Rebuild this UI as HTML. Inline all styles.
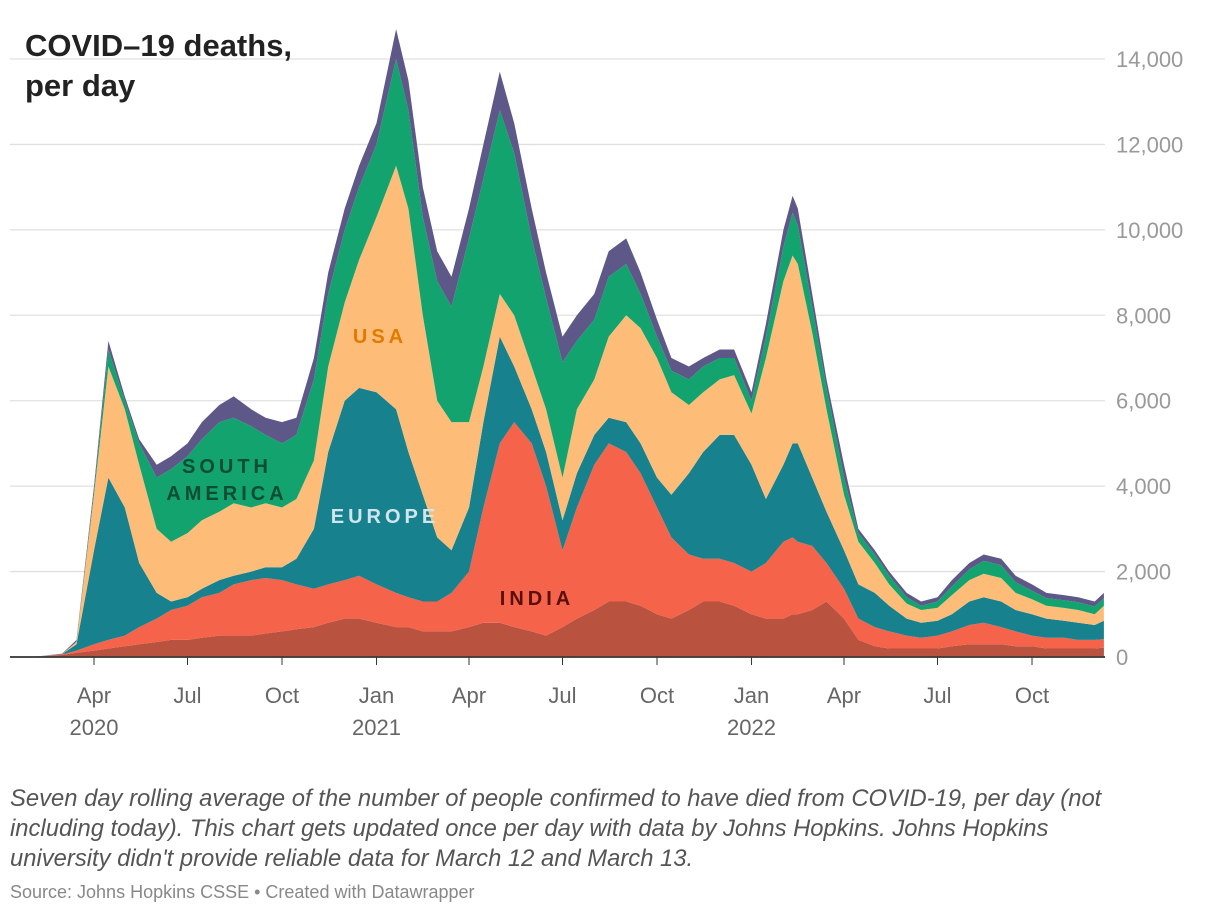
<!DOCTYPE html>
<html><head><meta charset="utf-8">
<style>
body{margin:0;width:1220px;height:918px;background:#fff;font-family:"Liberation Sans",sans-serif;overflow:hidden;position:relative}
#title{position:absolute;left:25px;top:26px;font-size:31px;font-weight:bold;color:#222;line-height:40px}
#caption{position:absolute;left:10px;top:784px;width:1140px;font-size:23.8px;font-style:italic;color:#555;line-height:30px}
#source{position:absolute;left:10px;top:882px;font-size:18px;color:#888}
svg{position:absolute;left:0;top:0}
</style></head><body>
<svg id="chart" width="1220" height="918"></svg>
<div id="title">COVID–19 deaths,<br>per day</div>
<div id="caption">Seven day rolling average of the number of people confirmed to have died from COVID-19, per day (not including today). This chart gets updated once per day with data by Johns Hopkins. Johns Hopkins university didn't provide reliable data for March 12 and March 13.</div>
<div id="source">Source: Johns Hopkins CSSE • Created with Datawrapper</div>
<script>
const dates=["2020-02-01","2020-03-01","2020-03-15","2020-04-01","2020-04-15","2020-05-01","2020-05-15","2020-06-01","2020-06-15","2020-07-01","2020-07-15","2020-08-01","2020-08-15","2020-09-01","2020-09-15","2020-10-01","2020-10-15","2020-11-01","2020-11-15","2020-12-01","2020-12-15","2021-01-01","2021-01-20","2021-02-01","2021-02-15","2021-03-01","2021-03-15","2021-04-01","2021-04-15","2021-05-01","2021-05-15","2021-06-01","2021-06-15","2021-07-01","2021-07-15","2021-08-01","2021-08-15","2021-09-01","2021-09-15","2021-10-01","2021-10-15","2021-11-01","2021-11-15","2021-12-01","2021-12-15","2022-01-01","2022-01-15","2022-02-01","2022-02-10","2022-02-15","2022-03-01","2022-03-15","2022-04-01","2022-04-15","2022-05-01","2022-05-15","2022-06-01","2022-06-15","2022-07-01","2022-07-15","2022-08-01","2022-08-15","2022-09-01","2022-09-15","2022-10-01","2022-10-15","2022-11-01","2022-11-15","2022-12-01","2022-12-10"];
// cumulative stack tops per region
const topAsia=[0,50,100,150,200,250,300,350,400,400,450,500,500,500,550,600,650,700,800,900,900,800,700,700,600,600,600,700,800,800,700,600,500,700,900,1100,1300,1300,1200,1000,900,1100,1300,1300,1200,1000,900,900,1000,1000,1100,1300,900,400,250,200,200,200,200,250,300,300,300,250,250,200,200,200,200,220];
const topIndia=[0,60,150,300,400,500,700,900,1100,1200,1400,1500,1700,1800,1850,1800,1700,1600,1700,1800,1900,1700,1500,1400,1300,1300,1500,2000,3500,5000,5500,5000,4000,2500,3500,4500,5000,4800,4300,3500,2800,2400,2300,2300,2200,2000,2200,2700,2800,2700,2600,2200,1600,900,700,600,500,450,500,600,750,800,700,600,500,450,450,400,400,420];
const topEurope=[0,70,300,2500,4200,3500,2200,1500,1300,1400,1600,1800,1900,2000,2100,2100,2300,3000,4800,6000,6300,6200,5800,4800,3800,2800,2500,3500,5500,7500,6800,5800,4800,3200,4300,5200,5600,5500,5000,4200,3800,4300,4800,5200,5200,4500,3700,4500,5000,5000,4200,3400,2500,1700,1500,1200,900,800,850,1000,1300,1400,1300,1100,1000,900,850,800,750,850];
const topUSA=[0,70,350,3800,6800,5800,4500,3000,2700,2900,3200,3400,3600,3500,3600,3500,3700,4600,6800,8300,9300,10300,11500,10500,8000,6000,5500,5500,6800,8500,8000,6800,5800,4200,5800,6500,7500,8000,7700,7000,6200,5900,6200,6500,6600,5700,7000,8800,9400,9200,7600,5800,3800,2700,2200,1700,1250,1100,1150,1450,1800,1950,1850,1500,1350,1200,1150,1100,1000,1200];
const topSouthAm=[0,70,360,3900,7200,6000,5000,4200,4400,4700,5100,5500,5600,5400,5200,5000,5200,6500,8500,10000,11000,12000,14000,12800,10300,8800,8200,9800,11200,12800,11800,9800,8400,6900,7400,7900,8900,9200,8500,7500,6700,6500,6800,7000,7000,6000,7500,9600,10400,10100,8200,6300,4200,2900,2400,1900,1400,1200,1300,1650,2050,2250,2150,1750,1550,1380,1330,1280,1180,1380];
const topTotal=[0,80,400,4000,7400,6100,5100,4500,4700,5000,5500,5900,6100,5800,5600,5500,5600,7000,9000,10500,11500,12500,14700,13500,11000,9500,8900,10500,12000,13700,12500,10500,9000,7500,8000,8500,9500,9800,9000,7900,7000,6800,7000,7200,7200,6200,7800,10000,10800,10500,8500,6500,4500,3000,2500,2000,1500,1300,1400,1800,2200,2400,2300,1900,1700,1500,1450,1400,1300,1500];
const yTicks=[0,2000,4000,6000,8000,10000,12000,14000];
const xTickDates=["2020-04-01","2020-07-01","2020-10-01","2021-01-01","2021-04-01","2021-07-01","2021-10-01","2022-01-01","2022-04-01","2022-07-01","2022-10-01"];
const xTickLabels=["Apr","Jul","Oct","Jan","Apr","Jul","Oct","Jan","Apr","Jul","Oct"];
const xYearLabels=["2020","","","2021","","","","2022","","",""];

const NS="http://www.w3.org/2000/svg";
const svg=document.getElementById('chart');
const base=Date.UTC(2020,3,1);
function xs(d){const p=d.split('-');return 94+((Date.UTC(+p[0],+p[1]-1,+p[2])-base)/864e5)*1.0274;}
function ys(v){return 657-v*(598/14000);}
function mk(t,a){const e=document.createElementNS(NS,t);for(const k in a)e.setAttribute(k,a[k]);svg.appendChild(e);return e;}
yTicks.forEach((v,i)=>{
  const l=mk('line',{x1:10,x2:1105,y1:ys(v),y2:ys(v),stroke:v===0?'#333':'#e0e0e0','stroke-width':v===0?1.5:1.3});
  
  
  const t=mk('text',{x:1116,y:ys(v)+8,'font-size':22,fill:'#999'});
  t.textContent=v.toLocaleString('en-US');
  
  
});
const layers=[[null,topAsia,'#b9533f','asia-area'],[topAsia,topIndia,'#f4634a','india-area'],[topIndia,topEurope,'#17818e','europe-area'],[topEurope,topUSA,'#fdbd78','usa-area'],[topUSA,topSouthAm,'#12a36f','south-america-area'],[topSouthAm,topTotal,'#5e5889','other-area']];
layers.forEach(([lo,hi,col,name])=>{
  let d='';
  dates.forEach((dt,i)=>{d+=(i?'L':'M')+xs(dt).toFixed(1)+','+ys(hi[i]).toFixed(1);});
  for(let i=dates.length-1;i>=0;i--){d+='L'+xs(dates[i]).toFixed(1)+','+ys(lo?lo[i]:0).toFixed(1);}
  const p=mk('path',{d:d+'Z',fill:col});
  
  
});
mk('line',{x1:10,x2:1105,y1:657,y2:657,stroke:'#333','stroke-width':1.5});
xTickDates.forEach((dt,i)=>{
  const x=xs(dt);
  const tk=mk('line',{x1:x,x2:x,y1:657,y2:665,stroke:'#333','stroke-width':1});
  
  
  const t=mk('text',{x:x,y:703,'font-size':22,fill:'#666','text-anchor':'middle'});
  t.textContent=xTickLabels[i];
  
  
  if(xYearLabels[i]){
    const y=mk('text',{x:x,y:735,'font-size':22,fill:'#666','text-anchor':'middle'});
    y.textContent=xYearLabels[i];
    
    
  }
});
[["USA",380,343,'#e07b00'],["SOUTH",227,473,'#0d4d33'],["AMERICA",227,500,'#0d4d33'],["EUROPE",385,523,'#cfe6ee'],["INDIA",537,605,'#5a0f0a']].forEach(([s,x,y,c])=>{
  const t=mk('text',{x:x,y:y,'font-size':20,'font-weight':'bold',fill:c,'text-anchor':'middle','letter-spacing':4});
  t.textContent=s;
  
  
});
</script>
</body></html>
